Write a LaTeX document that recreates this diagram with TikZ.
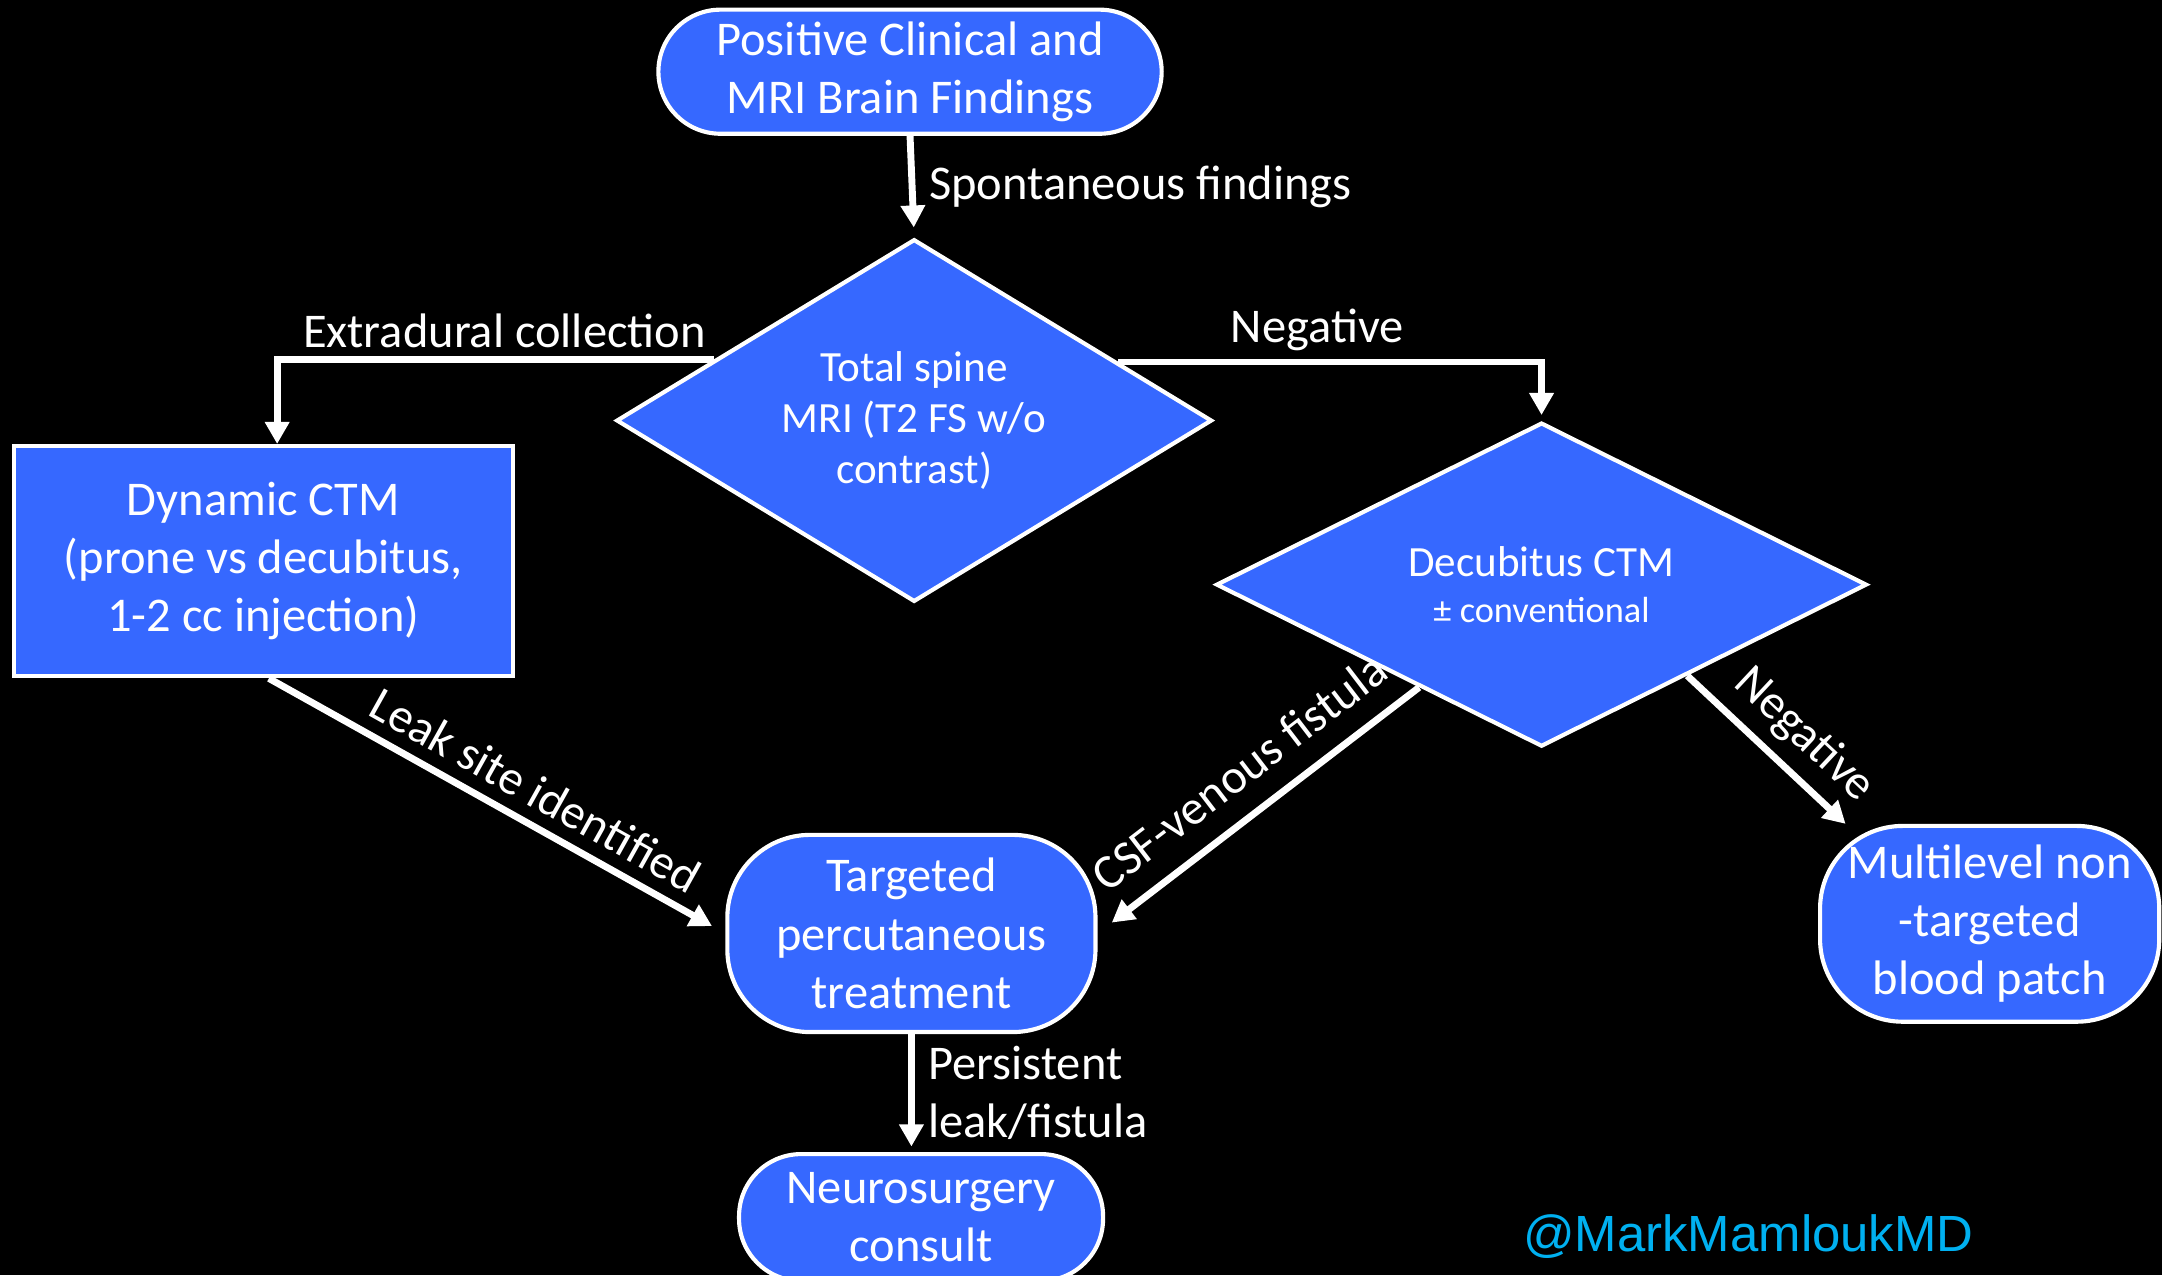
\documentclass[tikz,border=0pt]{standalone}
\usepackage{fontspec}
\setmainfont{Carlito}
\newfontfamily\arialfont{Liberation Sans}
\usetikzlibrary{shapes.geometric, arrows.meta}

\definecolor{boxblue}{RGB}{54,104,255}
\definecolor{tagcyan}{RGB}{0,176,240}

\tikzset{
  base/.style={draw=white, line width=0.6mm, fill=boxblue, text=white, align=center,
    inner sep=1pt, font=\fontsize{20}{24}\selectfont},
  term/.style={base, rectangle, rounded corners=#1},
  term/.default=9mm,
  decide/.style={base, diamond, aspect=1.6, inner sep=0pt, font=\fontsize{17.8}{21}\selectfont},
  flow/.style={draw=white, line width=1mm, -{Triangle[length=3.2mm, width=3.4mm]}},
  lbl/.style={text=white, font=\fontsize{20}{24}\selectfont},
}

\begin{document}
\begin{tikzpicture}[x=0.2mm, y=-0.2mm]
    % Background
    \fill[black] (0,0) rectangle (1568,925);
    \useasboundingbox (0,0) rectangle (1568,925);

    % Nodes
    \node[term, minimum width=73mm, minimum height=18mm] (mri) at (660,52) {Positive Clinical and\\MRI Brain Findings};
    \node[decide, minimum width=86.4mm, minimum height=52.6mm] (spine) at (663,305) {Total spine\\MRI (T2 FS w/o\\contrast)};
    \node[base, rectangle, minimum width=72.4mm, minimum height=33.4mm] (dyn) at (191,407) {Dynamic CTM\\(prone vs decubitus,\\1-2 cc injection)};
    \node[decide, minimum width=94.4mm, minimum height=47mm] (decub) at (1118,424) {Decubitus CTM\\[-0.6mm]{\fontsize{15}{18}\selectfont ± conventional}};
    \node[term=12mm, minimum width=53.4mm, minimum height=28.6mm] (treat) at (661,677) {Targeted\\percutaneous\\treatment};
    \node[term=12mm, minimum width=49.2mm, minimum height=28.4mm] (patch) at (1443,670) {Multilevel non\\-targeted\\blood patch};
    \node[term, minimum width=52.8mm, minimum height=18.4mm] (neuro) at (668,883) {Neurosurgery\\consult};

    % Connectors
    \draw[flow, shorten >=1.4mm] (mri.south) -- (spine.north)
        node[lbl, midway, right, xshift=0.8mm] {Spontaneous findings};
    \draw[flow] (spine.163.5) -| ([xshift=2mm]dyn.north)
        node[lbl, pos=0.24, above] {Extradural collection};
    \draw[flow, shorten >=0.8mm] (spine.16.5) -| (decub.north)
        node[lbl, pos=0.235, above] {Negative};
    \draw[flow, shorten >=2.2mm] ([xshift=0.8mm]dyn.south) -- (treat.west)
        node[lbl, pos=0.55, above=0.6mm, sloped] {Leak site identified};
    \draw[flow, shorten >=2.6mm] (decub.220) -- (treat.east)
        node[lbl, pos=0.48, above=2mm, sloped] {CSF-venous fistula};
    \draw[flow] (decub.-32) -- ([xshift=4mm]patch.north west)
        node[lbl, pos=0.58, above=0.6mm, sloped] {Negative};
    \draw[flow, shorten >=0.8mm] (treat.south) -- (treat.south |- neuro.north)
        node[lbl, midway, right, align=left, xshift=0.8mm] {Persistent\\leak/fistula};

    % Tag
    \node[text=tagcyan, font=\arialfont\fontsize{21}{25}\selectfont] (tag) at (1268,897) {@MarkMamloukMD};
\end{tikzpicture}
\end{document}
